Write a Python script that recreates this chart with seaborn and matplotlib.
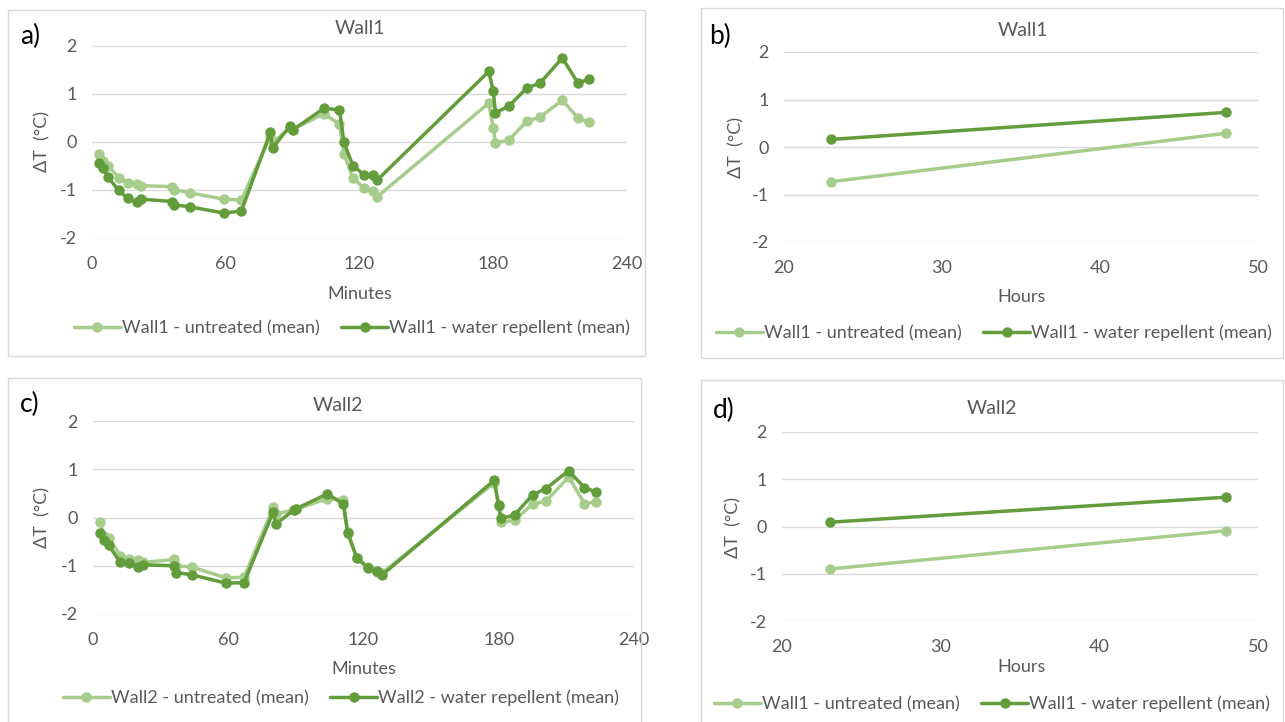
import matplotlib
matplotlib.use("Agg")
import matplotlib.pyplot as plt
import seaborn as sns
import pandas as pd
from matplotlib.patches import Rectangle

# ---------------- data ----------------
minutes = [3, 5, 7, 12, 16, 20, 22, 36, 37, 44, 59, 67, 80, 81, 89, 90, 104, 111,
           113, 117, 122, 126, 128, 178, 180, 181, 187, 195, 201, 211, 218, 223]

wall1_untreated = [-0.24, -0.40, -0.49, -0.74, -0.85, -0.87, -0.91, -0.93, -0.99, -1.06,
                   -1.19, -1.21, 0.12, -0.01, 0.30, 0.26, 0.59, 0.37, -0.24, -0.75,
                   -0.96, -1.03, -1.14, 0.81, 0.29, -0.02, 0.04, 0.43, 0.52, 0.87, 0.50, 0.41]
wall1_repellent = [-0.43, -0.54, -0.72, -1.01, -1.17, -1.24, -1.19, -1.24, -1.31, -1.35,
                   -1.48, -1.44, 0.20, -0.12, 0.34, 0.25, 0.70, 0.67, 0.00, -0.49,
                   -0.68, -0.69, -0.79, 1.47, 1.06, 0.61, 0.75, 1.12, 1.23, 1.75, 1.23, 1.31]

wall2_untreated = [-0.10, -0.38, -0.42, -0.79, -0.85, -0.88, -0.93, -0.87, -1.00, -1.03,
                   -1.25, -1.24, 0.21, 0.07, 0.16, 0.17, 0.39, 0.37, -0.31, -0.84,
                   -1.03, -1.12, -1.16, 0.72, 0.24, -0.10, -0.06, 0.28, 0.34, 0.84, 0.29, 0.32]
wall2_repellent = [-0.33, -0.46, -0.57, -0.93, -0.95, -1.03, -0.98, -1.00, -1.14, -1.19,
                   -1.36, -1.35, 0.12, -0.14, 0.15, 0.18, 0.49, 0.28, -0.32, -0.83,
                   -1.05, -1.10, -1.20, 0.77, 0.25, -0.02, 0.05, 0.47, 0.60, 0.97, 0.62, 0.53]

hours = [23, 48]
wall1_h_untreated = [-0.73, 0.29]
wall1_h_repellent = [0.16, 0.73]
wall2_h_untreated = [-0.90, -0.09]
wall2_h_repellent = [0.09, 0.62]

minute_ticks = [0, 60, 120, 180, 240]
hour_ticks = [20, 30, 40, 50]
y_ticks = [-2, -1, 0, 1, 2]

# ---------------- style ----------------
sns.set_style("white")
plt.rcParams['font.family'] = ['Lato', 'DejaVu Sans']

LIGHT = "#a6cd8c"
DARK = "#629c3b"
GREY = "#595959"
GRID = "#d9d9d9"

W, H = 1285, 722
fig = plt.figure(figsize=(W / 100, H / 100), dpi=100)
fig.patch.set_facecolor("white")


def px_axes(l, r, t, b):
    return fig.add_axes([l / W, 1 - b / H, (r - l) / W, (b - t) / H])


def px_box(l, r, t, b):
    fig.patches.append(Rectangle((l / W, 1 - b / H), (r - l) / W, (b - t) / H,
                                 transform=fig.transFigure, fill=False,
                                 edgecolor=GRID, linewidth=1.0, zorder=0))


def panel(ax, x, y_u, y_r, lab_u, lab_r, xlim, xticks, xlabel, title, letter,
          letter_xy, title_xy, legend_xy, xlabel_xy, ylabel_xy):
    df = pd.DataFrame({"x": list(x) * 2,
                       "y": list(y_u) + list(y_r),
                       "series": [lab_u] * len(x) + [lab_r] * len(x)})
    sns.lineplot(data=df, x="x", y="y", hue="series", palette=[LIGHT, DARK],
                 marker="o", markersize=7.5, markeredgewidth=0, linewidth=2.5,
                 estimator=None, sort=False, ax=ax, legend=False)
    ax.set_xlim(*xlim)
    ax.set_ylim(-2, 2)
    ax.set_xticks(xticks)
    ax.set_yticks(y_ticks)
    ax.set_yticklabels([str(v) for v in y_ticks])
    ax.yaxis.grid(True, color=GRID, linewidth=1.0)
    ax.xaxis.grid(False)
    ax.set_axisbelow(True)
    for s in ax.spines.values():
        s.set_visible(False)
    ax.tick_params(axis="both", length=0, labelsize=13, labelcolor=GREY)
    ax.tick_params(axis="y", pad=11)
    ax.tick_params(axis="x", pad=13)
    ax.set_xlabel("")
    ax.set_ylabel("")
    fig.text(xlabel_xy[0] / W, 1 - xlabel_xy[1] / H, xlabel, ha="center", va="center",
             fontsize=13, color=GREY)
    fig.text(ylabel_xy[0] / W, 1 - ylabel_xy[1] / H, "ΔT  (°C)", ha="center", va="center",
             fontsize=13, color=GREY, rotation=90)
    fig.text(title_xy[0] / W, 1 - title_xy[1] / H, title, ha="center", va="center",
             fontsize=14, color=GREY)
    fig.text(letter_xy[0] / W, 1 - letter_xy[1] / H, letter, ha="left", va="center",
             fontsize=19, color="black")
    h1, = ax.plot([], [], color=LIGHT, marker="o", markersize=7.5, markeredgewidth=0,
                  linewidth=2.5)
    h2, = ax.plot([], [], color=DARK, marker="o", markersize=7.5, markeredgewidth=0,
                  linewidth=2.5)
    leg = fig.legend([h1, h2], [lab_u, lab_r], loc="center",
                     bbox_to_anchor=(legend_xy[0] / W, 1 - legend_xy[1] / H),
                     ncol=2, frameon=False, fontsize=13, handlelength=2.6,
                     handletextpad=0.05, columnspacing=1.2)
    for t in leg.get_texts():
        t.set_color(GREY)


# panel boxes
px_box(8, 645, 10, 356)
px_box(701, 1283, 8, 358)
px_box(8, 641, 378, 723)
px_box(701, 1283, 380, 723)

ax_a = px_axes(92, 627, 46, 238)
panel(ax_a, minutes, wall1_untreated, wall1_repellent,
      "Wall1 - untreated (mean)", "Wall1 - water repellent (mean)",
      (0, 240), minute_ticks, "Minutes", "Wall1", "a)",
      (20, 36), (360, 28), (352, 328), (360, 294), (42, 142))

ax_b = px_axes(784, 1258, 52, 242)
panel(ax_b, hours, wall1_h_untreated, wall1_h_repellent,
      "Wall1 - untreated (mean)", "Wall1 - water repellent (mean)",
      (20, 50), hour_ticks, "Hours", "Wall1", "b)",
      (709, 36), (1023, 31), (994, 333), (1022, 297), (736, 147))

ax_c = px_axes(93, 634, 421, 614)
panel(ax_c, minutes, wall2_untreated, wall2_repellent,
      "Wall2 - untreated (mean)", "Wall2 - water repellent (mean)",
      (0, 240), minute_ticks, "Minutes", "Wall2", "c)",
      (20, 404), (338, 406), (341, 698), (364, 669), (42, 517))

ax_d = px_axes(782, 1258, 432, 621)
panel(ax_d, hours, wall2_h_untreated, wall2_h_repellent,
      "Wall1 - untreated (mean)", "Wall1 - water repellent (mean)",
      (20, 50), hour_ticks, "Hours", "Wall2", "d)",
      (713, 410), (992, 409), (992, 704), (1022, 667), (733, 527))

fig.savefig("out.png", dpi=100, facecolor="white")
